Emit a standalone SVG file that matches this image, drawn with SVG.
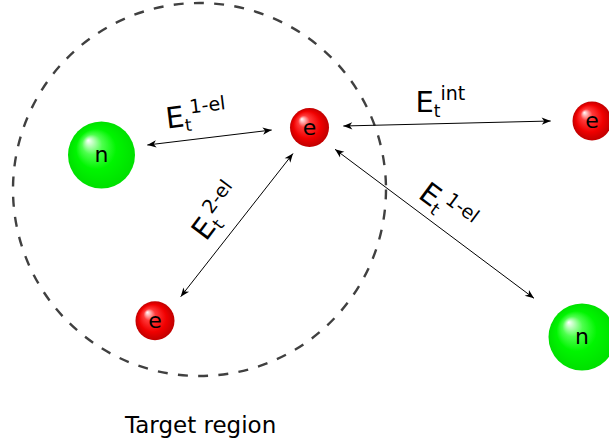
<svg xmlns="http://www.w3.org/2000/svg" width="609" height="444" viewBox="0 0 609 444">
<style>
text{font-family:"DejaVu Sans",sans-serif;fill:#000}
.lbl{font-size:29px}
.sub{font-size:17px}
.sup{font-size:19px}
.ball{font-size:22px;text-anchor:middle}
.conn{stroke:#000;stroke-width:1;fill:none;marker-start:url(#ah);marker-end:url(#ah)}
</style>
<defs>
<radialGradient id="gG" cx="0.5" cy="0.5" r="0.5" fx="0.3" fy="0.28">
<stop offset="0" stop-color="#ffffff"/>
<stop offset="0.3" stop-color="#4dff4d"/>
<stop offset="0.6" stop-color="#00f500"/>
<stop offset="1" stop-color="#00e000"/>
</radialGradient>
<radialGradient id="gR" cx="0.5" cy="0.5" r="0.5" fx="0.3" fy="0.28">
<stop offset="0" stop-color="#ffffff"/>
<stop offset="0.3" stop-color="#ff3a3a"/>
<stop offset="0.7" stop-color="#f00000"/>
<stop offset="1" stop-color="#c00000"/>
</radialGradient>
<marker id="ah" markerUnits="userSpaceOnUse" markerWidth="12" markerHeight="10" viewBox="-10 -5 12 10" refX="0" refY="0" orient="auto-start-reverse">
<path d="M0,0 L-9,-3.6 L-6.5,0 L-9,3.6 Z" fill="#000"/>
</marker>
</defs>
<circle cx="199.5" cy="189.5" r="186.5" fill="none" stroke="#404040" stroke-width="2.4" stroke-dasharray="10 10.3"/>
<g id="connectors">
<line class="conn" x1="147.3" y1="145" x2="271.7" y2="130"/>
<line class="conn" x1="180.7" y1="296.7" x2="293" y2="153.5"/>
<line class="conn" x1="343.3" y1="126" x2="550.7" y2="121"/>
<line class="conn" x1="335" y1="149.3" x2="534" y2="298.3"/>
</g>
<g id="n1"><circle cx="101.5" cy="155" r="33.5" fill="url(#gG)"/><text class="ball" x="101.5" y="162">n</text></g>
<g id="e1"><circle cx="309.5" cy="127.5" r="19.5" fill="url(#gR)"/><text class="ball" x="309.5" y="134.5">e</text></g>
<g id="e2"><circle cx="592" cy="121" r="19.5" fill="url(#gR)"/><text class="ball" x="592" y="128">e</text></g>
<g id="e3"><circle cx="155" cy="320.8" r="19.5" fill="url(#gR)"/><text class="ball" x="155" y="327.8">e</text></g>
<g id="n2"><circle cx="582" cy="337" r="33.5" fill="url(#gG)"/><text class="ball" x="582" y="344">n</text></g>
<g id="labels">
<text class="lbl" transform="translate(167,128.5) rotate(-7)">E<tspan class="sub" dy="5">t</tspan><tspan class="sup" dy="-17">1-el</tspan></text>
<text class="lbl" transform="translate(415.5,111.7)">E<tspan class="sub" dy="5">t</tspan><tspan class="sup" dy="-17">int</tspan></text>
<text class="lbl" transform="translate(206,242) rotate(-53)">E<tspan class="sub" dy="5">t</tspan><tspan class="sup" dy="-17">2-el</tspan></text>
<text class="lbl" transform="translate(417,197) rotate(36.6)">E<tspan class="sub" dy="5">t</tspan><tspan class="sup" dy="-17">1-el</tspan></text>
<text x="125" y="433" style="font-size:23px">Target region</text>
</g>
</svg>
